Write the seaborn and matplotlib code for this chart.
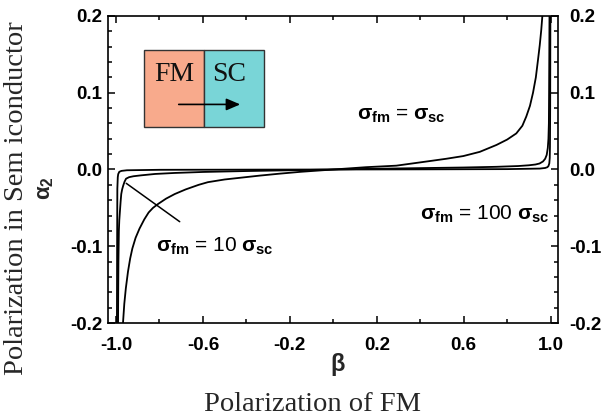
import numpy as np
import pandas as pd
import matplotlib
matplotlib.use("Agg")
import matplotlib.pyplot as plt
import matplotlib.transforms as mtransforms
import seaborn as sns
from matplotlib.patches import Rectangle

# ---- data ----
beta_eq = [-0.968, -0.962, -0.955, -0.945, -0.935, -0.925, -0.910, -0.892, -0.870, -0.850,
           -0.830, -0.807, -0.770, -0.730, -0.680, -0.620, -0.577, -0.500, -0.420, -0.340,
           -0.250, -0.150, 0.0, 0.150, 0.290, 0.444, 0.520, 0.598, 0.674, 0.751,
           0.800, 0.842, 0.870, 0.888, 0.905, 0.919, 0.932, 0.942, 0.950, 0.957,
           0.962, 0.965]
alpha_eq = [-0.200, -0.175, -0.155, -0.133, -0.116, -0.103, -0.089, -0.077, -0.065, -0.056,
            -0.050, -0.045, -0.038, -0.032, -0.026, -0.020, -0.0165, -0.013, -0.0105, -0.008,
            -0.0055, -0.003, 0.0, 0.003, 0.005, 0.011, 0.014, 0.0175, 0.023, 0.032,
            0.039, 0.047, 0.057, 0.069, 0.083, 0.100, 0.120, 0.143, 0.162, 0.182,
            0.200, 0.215]

beta_10 = [-0.991, -0.990, -0.989, -0.987, -0.985, -0.982, -0.979, -0.976, -0.972, -0.967,
           -0.961, -0.954, -0.940, -0.920, -0.884, -0.820, -0.730, -0.600, -0.400, -0.200,
           0.0, 0.200, 0.400, 0.600, 0.750, 0.850, 0.900, 0.930, 0.949, 0.965,
           0.975, 0.982, 0.987, 0.990, 0.992, 0.993, 0.994, 0.995]
alpha_10 = [-0.210, -0.160, -0.120, -0.080, -0.066, -0.054, -0.042, -0.032, -0.026, -0.021,
            -0.016, -0.012, -0.010, -0.0088, -0.0076, -0.0058, -0.0045, -0.0032, -0.002, -0.001,
            0.0, 0.001, 0.0018, 0.0026, 0.0035, 0.0045, 0.0055, 0.0065, 0.0078, 0.0105,
            0.014, 0.019, 0.028, 0.040, 0.060, 0.100, 0.150, 0.210]

beta_100 = [-0.996, -0.995, -0.994, -0.992, -0.990, -0.985, -0.975, -0.950, -0.800, -0.400,
            0.0, 0.400, 0.800, 0.950, 0.975, 0.985, 0.990, 0.994, 0.996, 0.997, 0.998, 0.999]
alpha_100 = [-0.210, -0.100, -0.025, -0.010, -0.006, -0.003, -0.0018, -0.001, -0.0004, -0.0002,
             0.0, 0.0002, 0.0005, 0.0012, 0.002, 0.003, 0.0045, 0.008, 0.015, 0.030, 0.080, 0.210]

labels = ["σfm = σsc", "σfm = 10 σsc", "σfm = 100 σsc"]
label_text = [r"$\sigma_{\rm fm}$ = $\sigma_{\rm sc}$",
              r"$\sigma_{\rm fm}$ = 10 $\sigma_{\rm sc}$",
              r"$\sigma_{\rm fm}$ = 100 $\sigma_{\rm sc}$"]
label_pos = [(0.314, 0.071), (-0.545, -0.100), (0.697, -0.059)]
pointer = [(-0.953, -0.018), (-0.707, -0.068)]

x_major = [-1.0, -0.6, -0.2, 0.2, 0.6, 1.0]
x_minor = [-0.8, -0.4, 0.0, 0.4, 0.8]
y_major = [-0.2, -0.1, 0.0, 0.1, 0.2]

df = pd.concat([
    pd.DataFrame({"beta": beta_eq, "alpha": alpha_eq, "case": labels[0]}),
    pd.DataFrame({"beta": beta_10, "alpha": alpha_10, "case": labels[1]}),
    pd.DataFrame({"beta": beta_100, "alpha": alpha_100, "case": labels[2]}),
], ignore_index=True)

# ---- style ----
sns.set_theme(style="ticks")
plt.rcParams["font.family"] = ["Liberation Sans", "DejaVu Sans"]
plt.rcParams["axes.unicode_minus"] = False
plt.rcParams["mathtext.fontset"] = "custom"
plt.rcParams["mathtext.rm"] = "Liberation Sans:bold"
plt.rcParams["mathtext.it"] = "Liberation Sans:bold"
plt.rcParams["mathtext.bf"] = "Liberation Sans:bold"

fig = plt.figure(figsize=(6.01, 4.19), dpi=100)
ax = fig.add_axes([108 / 601, 1 - 323 / 419, 450 / 601, 307 / 419])

for c in labels:
    sns.lineplot(data=df[df["case"] == c], x="beta", y="alpha", sort=False,
                 estimator=None, color="black", lw=1.3, ax=ax, legend=False)

ax.set_xlim(-1.037, 1.034)
ax.set_ylim(-0.2, 0.2)
ax.set_xticks(x_major)
ax.set_xticks(x_minor, minor=True)
ax.set_yticks(y_major)
ax.set_yticks(np.arange(-0.2, 0.2001, 0.02), minor=True)
ax.set_xticklabels([f"{v:.1f}" for v in x_major])
ax.set_yticklabels([f"{v:.1f}" for v in y_major])
ax.tick_params(which="both", direction="in", top=True, right=True, labelright=True,
               width=1.1, colors="black")
ax.tick_params(which="major", length=5, labelsize=13.5)
ax.tick_params(which="minor", length=3)
ax.tick_params(axis="x", which="major", pad=10)
ax.tick_params(axis="y", which="major", pad=4)
for lab in ax.get_xticklabels() + ax.get_yticklabels():
    lab.set_fontweight("bold")
shift = mtransforms.ScaledTranslation(6 / 100, 0, fig.dpi_scale_trans)
for t in ax.yaxis.get_major_ticks():
    t.label2.set_fontweight("bold")
    t.label2.set_transform(t.label2.get_transform() + shift)
for sp in ax.spines.values():
    sp.set_linewidth(1.2)
    sp.set_color("black")
ax.set_xlabel("")
ax.set_ylabel("")

# annotations
for t, (x, y) in zip(label_text, label_pos):
    ax.text(x, y, t, ha="center", va="center", fontsize=15, color="black")
ax.plot([pointer[0][0], pointer[1][0]], [pointer[0][1], pointer[1][1]], color="black", lw=1.1)

# inset FM/SC sketch
ax.add_patch(Rectangle((0.0807, 0.639), 0.1333, 0.25, transform=ax.transAxes,
                       facecolor="#F8AA8C", edgecolor="#333333", lw=1.0))
ax.add_patch(Rectangle((0.2140, 0.639), 0.1327, 0.25, transform=ax.transAxes,
                       facecolor="#79D5D7", edgecolor="#333333", lw=1.0))
ax.text(0.1473, 0.81, "FM", transform=ax.transAxes, ha="center", va="center",
        fontsize=20, family="Liberation Serif", color="#111111")
ax.text(0.2690, 0.81, "SC", transform=ax.transAxes, ha="center", va="center",
        fontsize=20, family="Liberation Serif", color="#111111")
ax.annotate("", xy=(0.300, 0.712), xytext=(0.151, 0.712), xycoords="axes fraction",
            arrowprops=dict(arrowstyle="-|>,head_length=0.7,head_width=0.3", color="black", lw=1.2))

# axis symbols
fig.text(45 / 601, 1 - 188 / 419, r"$\alpha_2$", rotation=90, ha="center", va="center", fontsize=16)
fig.text(338 / 601, 1 - 364 / 419, r"$\beta$", ha="center", va="center", fontsize=17)

# outer serif labels
fig.text(17 / 601, 1 - 198 / 419, "Polarization in Sem iconductor", rotation=90,
         ha="center", va="center", fontsize=20.5, family="Liberation Serif")
fig.text(313 / 601, 1 - 404 / 419, "Polarization of FM",
         ha="center", va="center", fontsize=20.5, family="Liberation Serif")

fig.savefig("out.png", dpi=100)
